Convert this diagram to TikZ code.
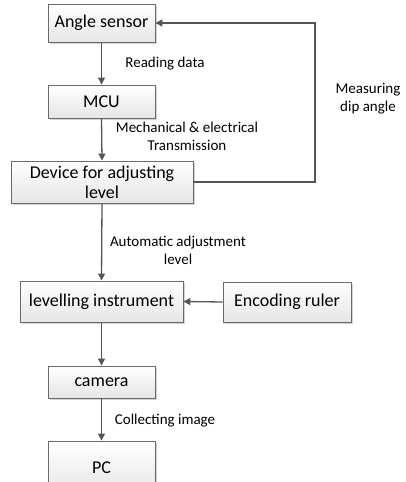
\documentclass[tikz,border=0pt]{standalone}
\usepackage{fontspec}
\setmainfont{Carlito}
\usetikzlibrary{arrows.meta,shadows}
\definecolor{boxline}{HTML}{6A6A6A}
\definecolor{arrline}{HTML}{555555}
\definecolor{shadowc}{HTML}{D4D4D4}
\tikzset{
  blk/.style={draw=boxline, line width=0.9pt, top color=white, bottom color=black!10,
    font=\fontsize{18}{20}\selectfont, align=center, inner sep=0pt,
    drop shadow={shadow xshift=2.2pt, shadow yshift=-2.2pt, fill=shadowc, opacity=1}},
  arr/.style={draw=arrline, line width=1.3pt, -{Triangle[length=7pt,width=7pt]}},
  lbl/.style={font=\fontsize{15}{18}\selectfont, align=center, inner sep=0pt}
}
\begin{document}
\begin{tikzpicture}[x=1pt,y=1pt]
\useasboundingbox (0,0) rectangle (406,482);
\clip (0,0) rectangle (406,482);
% boxes (y = 482 - pixel y)
\node[blk, minimum width=107pt, minimum height=38pt] (as) at (101.5,459) {Angle sensor};
\node[blk, minimum width=107pt, minimum height=33pt] (mcu) at (101.5,380.5) {MCU};
\node[blk, minimum width=182pt, minimum height=42pt] (dev) at (102,300) {Device for adjusting\\level};
\node[blk, minimum width=163pt, minimum height=41pt] (li) at (101.5,180.5) {levelling instrument};
\node[blk, minimum width=128pt, minimum height=40pt] (er) at (287,180) {Encoding ruler};
\node[blk, minimum width=107pt, minimum height=32pt] (cam) at (101.5,100) {camera};
\node[blk, minimum width=107pt, minimum height=54pt] (pc) at (101.5,14) {PC};
% connectors
\draw[arr] (as.south) -- (mcu.north);
\draw[arr] (mcu.south) -- (dev.north);
\draw[arr] (dev.south) -- (li.north);
\draw[arr] (li.south) -- (cam.north);
\draw[arr] (cam.south) -- (pc.north);
\draw[arr] (er.west) -- (li.east);
\coordinate (c1) at (315,300);
\coordinate (c2) at (315,459);
\draw[arr] (dev.east) -- (c1) -- (c2) -- (as.east);
% labels
\node[lbl] (l1) at (165,418) {Reading data};
\node[lbl] (l2) at (187,345.5) {Mechanical \& electrical\\Transmission};
\node[lbl] (l3) at (178,232) {Automatic adjustment\\level};
\node[lbl] (l4) at (368,383) {Measuring\\dip angle};
\node[lbl] (l5) at (165,61) {Collecting image};
\end{tikzpicture}
\end{document}
